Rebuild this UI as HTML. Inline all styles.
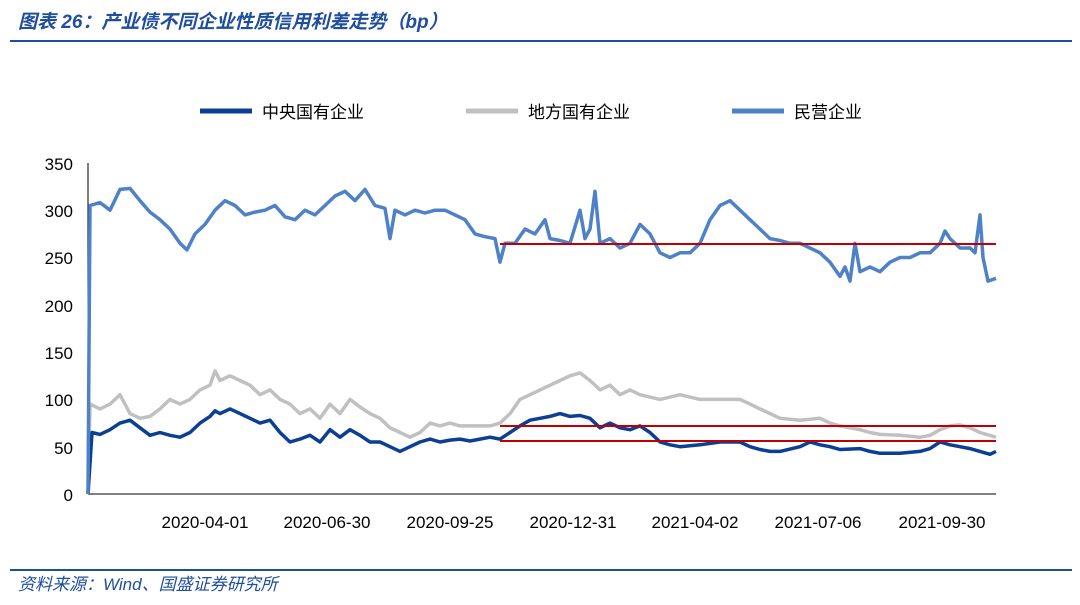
<!DOCTYPE html>
<html><head><meta charset="utf-8">
<style>
body{margin:0;background:#fff;width:1080px;height:605px;overflow:hidden;font-family:"Liberation Sans","Noto Sans CJK SC",sans-serif;}
</style></head>
<body>
<svg id="s" width="1080" height="605" xmlns="http://www.w3.org/2000/svg" style="position:absolute;left:0;top:0">
<text x="18" y="28" font-size="19" font-weight="bold" font-style="italic" fill="#1F4E9E" font-family="Liberation Sans,Noto Sans CJK SC,sans-serif">图表 26：产业债不同企业性质信用利差走势（bp）</text>
<line x1="10" y1="41" x2="1072" y2="41" stroke="#1F4E9E" stroke-width="2"/>
<line x1="200" y1="111" x2="252" y2="111" stroke="#0B3F94" stroke-width="5"/>
<text x="262" y="118" font-size="17" fill="#000">中央国有企业</text>
<line x1="466" y1="111" x2="518" y2="111" stroke="#C0C0C0" stroke-width="5"/>
<text x="528" y="118" font-size="17" fill="#000">地方国有企业</text>
<line x1="732" y1="111" x2="784" y2="111" stroke="#4F81C7" stroke-width="5"/>
<text x="794" y="118" font-size="17" fill="#000">民营企业</text>
<g font-size="17" fill="#000" text-anchor="end">
<text x="73" y="170">350</text><text x="73" y="217">300</text><text x="73" y="264">250</text>
<text x="73" y="312">200</text><text x="73" y="359">150</text><text x="73" y="406">100</text>
<text x="73" y="454">50</text><text x="73" y="501">0</text>
</g>
<g font-size="17" fill="#000" text-anchor="middle">
<text x="205" y="528">2020-04-01</text><text x="327" y="528">2020-06-30</text><text x="450" y="528">2020-09-25</text>
<text x="573" y="528">2020-12-31</text><text x="695" y="528">2021-04-02</text><text x="818" y="528">2021-07-06</text>
<text x="942" y="528">2021-09-30</text>
</g>
<line x1="88" y1="163" x2="88" y2="494" stroke="#000" stroke-width="1"/>
<line x1="88" y1="494" x2="996" y2="494" stroke="#000" stroke-width="1"/>
<g id="d"></g>
<line x1="10" y1="570" x2="1072" y2="570" stroke="#1F4E9E" stroke-width="2"/>
<text x="18" y="590" font-size="17" font-style="italic" fill="#1F4E9E">资料来源：Wind、国盛证券研究所</text>
</svg>
<script>
function P(a){var s=[];for(var i=0;i<a.length;i+=2)s.push(a[i]+','+(494-a[i+1]*0.946).toFixed(1));return s.join(' ');}
var grey=[88,0,90,95,100,90,110,95,120,105,130,85,140,80,150,82,160,90,170,100,180,95,190,100,200,110,210,115,215,130,220,120,230,125,240,120,250,115,260,105,270,110,280,100,290,95,300,85,310,90,320,80,330,95,340,85,350,100,360,92,370,85,380,80,390,70,400,65,410,60,420,65,430,75,440,72,450,75,460,72,470,72,480,72,490,72,500,75,510,85,520,100,530,105,540,110,550,115,560,120,570,125,580,128,590,120,600,110,610,115,620,105,630,110,640,105,660,100,680,105,700,100,720,100,740,100,750,95,760,90,770,85,780,80,800,78,820,80,830,75,840,72,850,70,860,68,870,65,880,63,900,62,920,60,930,62,940,68,950,72,960,73,970,70,980,65,996,60];
var dark=[88,0,92,65,100,63,110,68,120,75,130,78,140,70,150,62,160,65,170,62,180,60,190,65,200,75,210,82,215,88,220,85,230,90,240,85,250,80,260,75,270,78,280,65,290,55,300,58,310,62,320,55,330,68,340,60,350,68,360,62,370,55,380,55,390,50,400,45,410,50,420,55,430,58,440,55,450,57,460,58,470,56,480,58,490,60,500,58,510,65,520,72,530,78,540,80,550,82,560,85,570,82,580,83,590,80,600,70,610,75,620,70,630,68,640,72,650,65,660,55,670,52,680,50,700,52,720,55,740,55,750,50,760,47,770,45,780,45,800,50,810,55,820,52,830,50,840,47,860,48,870,45,880,43,900,43,920,45,930,48,940,55,950,52,960,50,970,48,980,45,990,42,996,45];
var blue=[88,0,90,305,100,308,110,300,120,322,130,323,140,310,150,298,160,290,170,280,180,265,187,258,195,275,205,285,215,300,225,310,235,305,245,295,255,298,265,300,275,305,285,293,295,290,305,300,315,295,325,305,335,315,345,320,355,310,365,322,375,305,385,302,390,270,395,300,405,295,415,300,425,297,435,300,445,300,455,295,465,290,475,275,485,272,495,270,500,245,505,265,515,265,525,280,535,275,545,290,550,270,560,268,570,265,580,300,585,270,590,280,595,320,600,265,610,270,620,260,630,265,640,285,650,275,660,255,670,250,680,255,690,255,700,265,710,290,720,305,730,310,740,300,750,290,760,280,770,270,780,268,790,265,800,265,810,260,820,255,830,245,840,230,845,240,850,225,855,265,860,235,870,240,880,235,890,245,900,250,910,250,920,255,930,255,940,265,945,278,950,270,960,260,970,260,975,255,980,295,983,250,988,225,996,228];
var g=document.getElementById('d');
function L(a,c){g.innerHTML+='<polyline fill="none" stroke="'+c+'" stroke-width="3.5" stroke-linejoin="round" points="'+P(a)+'"/>';}
L(grey,'#C0C0C0');L(dark,'#0B3F94');L(blue,'#4F81C7');
g.innerHTML+='<line x1="500" y1="244" x2="996" y2="244" stroke="#C00000" stroke-width="2"/><line x1="500" y1="426" x2="996" y2="426" stroke="#C00000" stroke-width="2"/><line x1="500" y1="441" x2="996" y2="441" stroke="#C00000" stroke-width="2"/>';
</script>
</body></html>
